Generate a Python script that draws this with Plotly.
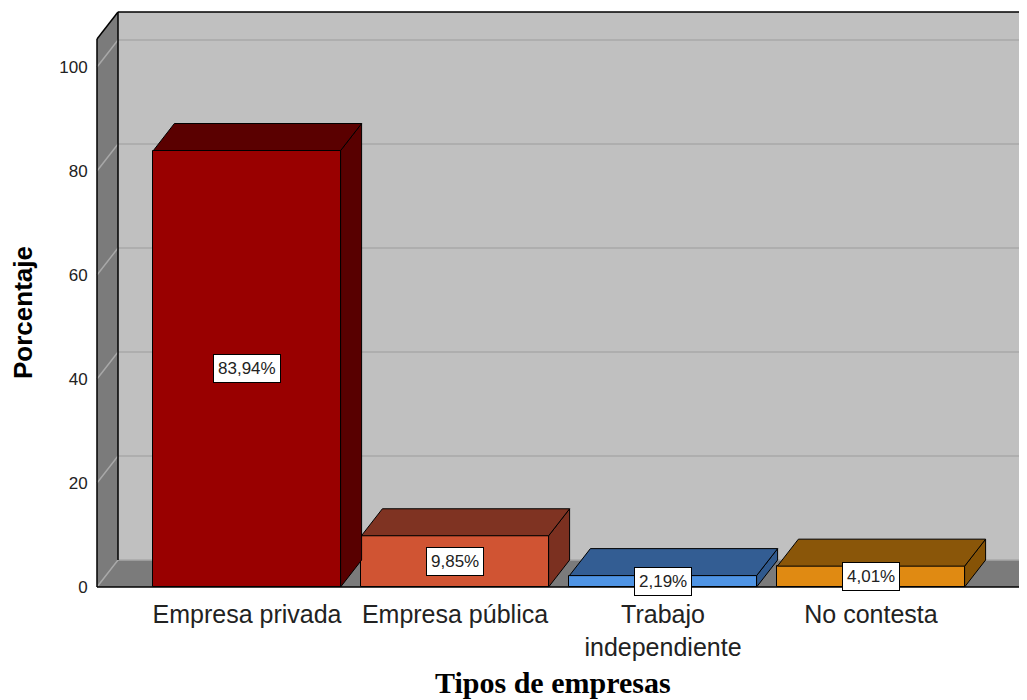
import plotly.graph_objects as go

# ---- data ----
categories = ["Empresa privada", "Empresa pública", "Trabajo<br>independiente", "No contesta"]
values = [83.94, 9.85, 2.19, 4.01]
y_ticks = [0, 20, 40, 60, 80, 100]
front_colors = ["#990000", "#d05433", "#4f94e4", "#e08a12"]
top_colors = ["#5a0000", "#7f3322", "#335d93", "#8a5609"]
side_colors = ["#580000", "#7b3020", "#30598d", "#865306"]

# page has an 8px body margin: work in reference pixels, shift by OFF
OFF = 8
FIG_W, FIG_H = 1027 - OFF, 700 - OFF

# ---- geometry (axis units) ----
PX_X = 208.0          # px per category
PX_Y = 5.2            # px per percent
DX = 21 / PX_X        # depth offset in x units
DY = 27 / PX_Y        # depth offset in y units
BAR_W = 0.9
L_PX, R_PX, T_PX, B_PX = 95, 1027, 10, 590   # reference pixel coords of plot area
X0_PX, Y0_PX = 247, 587
x_range = [(L_PX - X0_PX) / PX_X, (R_PX - X0_PX) / PX_X]
y_range = [(Y0_PX - B_PX) / PX_Y, (Y0_PX - T_PX) / PX_Y]
xL = (97 - X0_PX) / PX_X
xFR = (1020 - X0_PX) / PX_X
xR = x_range[1] + 0.5
wall_top = (Y0_PX - 39) / PX_Y

def poly(pts):
    return "M " + " L ".join(f"{x},{y}" for x, y in pts) + " Z"

def seg(a, b):
    return f"M {a[0]},{a[1]} L {b[0]},{b[1]}"

shapes = []
shapes.append(dict(type="path", xref="x", yref="y", layer="below",
                   path=poly([(xL + DX, DY), (xR, DY), (xR, wall_top + DY), (xL + DX, wall_top + DY)]),
                   fillcolor="#c0c0c0", line=dict(width=0)))
shapes.append(dict(type="path", xref="x", yref="y", layer="below",
                   path=poly([(xL, 0), (xL, wall_top), (xL + DX, wall_top + DY), (xL + DX, DY)]),
                   fillcolor="#7b7b7b", line=dict(width=0)))
shapes.append(dict(type="path", xref="x", yref="y", layer="below",
                   path=poly([(xL, 0), (xFR, 0), (xFR + DX, DY), (xL + DX, DY)]),
                   fillcolor="#7b7b7b", line=dict(width=0)))
for t in y_ticks:
    shapes.append(dict(type="path", xref="x", yref="y", layer="below",
                       path=f"M {xL},{t} L {xL + DX},{t + DY} L {xR},{t + DY}",
                       line=dict(color="#a8a8a8", width=1.5)))
for a, b in [((xL, 0), (xL, wall_top)),
             ((xL, wall_top), (xL + DX, wall_top + DY)),
             ((xL + DX, wall_top + DY), (xR, wall_top + DY)),
             ((xL + DX, DY), (xL + DX, wall_top + DY)),
             ((xL, 0), (xFR, 0)),
             ((xFR, 0), (xFR + DX, DY))]:
    shapes.append(dict(type="path", xref="x", yref="y", layer="below",
                       path=seg(a, b), line=dict(color="black", width=1.5)))

fig = go.Figure()
idx = list(range(len(values)))
fig.add_trace(go.Bar(x=idx, y=values, width=BAR_W,
                     marker=dict(color=front_colors, line=dict(color="black", width=1)),
                     hoverinfo="skip", showlegend=False))

for i, v in enumerate(values):
    x0, x1 = i - BAR_W / 2, i + BAR_W / 2
    top = [(x0, v), (x1, v), (x1 + DX, v + DY), (x0 + DX, v + DY), (x0, v)]
    side = [(x1, 0), (x1, v), (x1 + DX, v + DY), (x1 + DX, DY), (x1, 0)]
    for pts, col in [(side, side_colors[i]), (top, top_colors[i])]:
        fig.add_trace(go.Scatter(x=[p[0] for p in pts], y=[p[1] for p in pts],
                                 mode="lines", fill="toself", fillcolor=col,
                                 line=dict(color="black", width=1),
                                 hoverinfo="skip", showlegend=False))

annotations = []
for i, v in enumerate(values):
    annotations.append(dict(x=i, y=v / 2, xref="x", yref="y",
                            text=f"{v:.2f}".replace(".", ",") + "%",
                            showarrow=False, bgcolor="white", bordercolor="black",
                            borderwidth=1, borderpad=4,
                            font=dict(family="Liberation Sans, Arial", size=17, color="#222")))

pw = R_PX - L_PX
ph = B_PX - T_PX
annotations.append(dict(text="<b>Tipos de empresas</b>", xref="paper", yref="paper",
                        x=(553 - L_PX) / pw, y=(B_PX - 682) / ph,
                        xanchor="center", yanchor="middle", showarrow=False,
                        font=dict(family="Liberation Serif, Times New Roman", size=30, color="black")))
annotations.append(dict(text="<b>Porcentaje</b>", xref="paper", yref="paper",
                        x=(23 - L_PX) / pw, y=(B_PX - 313) / ph, textangle=-90,
                        xanchor="center", yanchor="middle", showarrow=False,
                        font=dict(family="Liberation Sans, Arial", size=26, color="black")))

fig.update_layout(
    width=FIG_W, height=FIG_H,
    margin=dict(l=L_PX - OFF, r=(1027 - R_PX), t=T_PX - OFF, b=700 - B_PX),
    paper_bgcolor="white", plot_bgcolor="white",
    shapes=shapes, annotations=annotations,
    hovermode=False, showlegend=False, bargap=0,
    xaxis=dict(range=x_range, tickvals=idx, ticktext=categories, showgrid=False,
               zeroline=False, showline=False, ticks="outside", ticklen=2,
               tickcolor="rgba(0,0,0,0)",
               tickfont=dict(family="Liberation Sans, Arial", size=25, color="#222")),
    yaxis=dict(range=y_range, tickvals=y_ticks, showgrid=False, zeroline=False,
               showline=False, ticks="outside", ticklen=3, tickcolor="rgba(0,0,0,0)",
               tickfont=dict(family="Liberation Sans, Arial", size=17, color="#222")),
)

fig.write_html("out.html", config={"displayModeBar": False})
